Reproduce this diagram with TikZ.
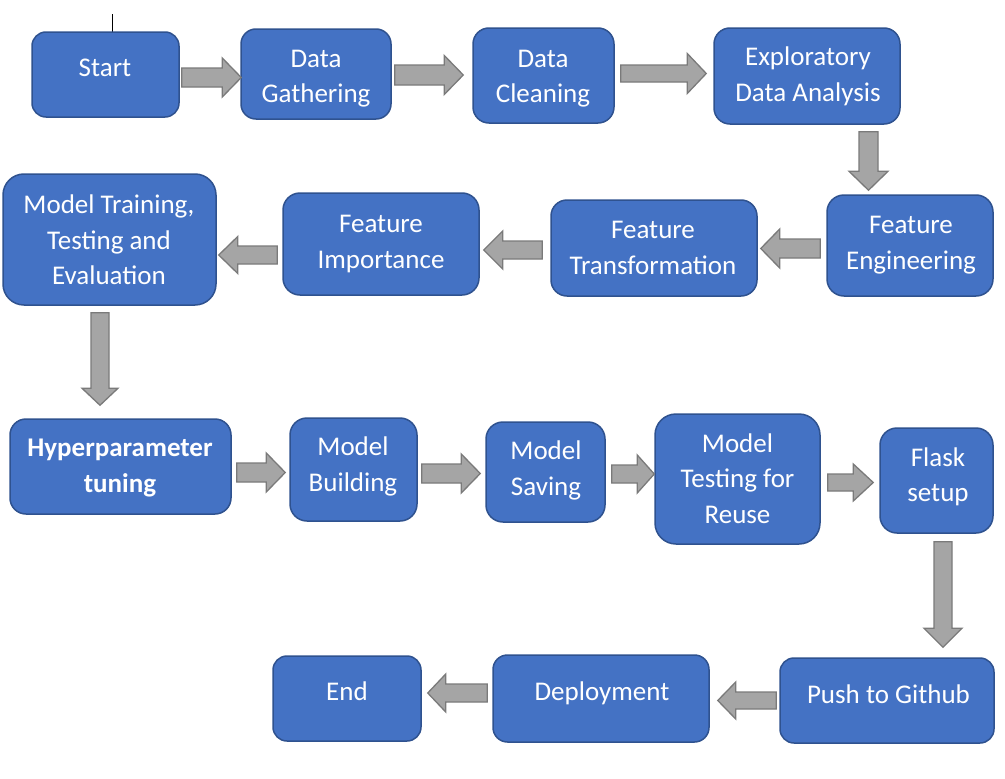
\documentclass[tikz,border=0pt]{standalone}
\usepackage{fontspec}
\setmainfont{Carlito}
\usetikzlibrary{calc}
\definecolor{boxc}{HTML}{4472C4}
\definecolor{bordc}{HTML}{2F528F}
\definecolor{arrc}{HTML}{A5A5A5}
\definecolor{arrb}{HTML}{7A7A7A}
\tikzset{
  box/.style={rectangle, draw=bordc, fill=boxc, line width=1.5pt, inner sep=0pt},
  lbl/.style={anchor=base, align=center, text=white, inner sep=0pt,
    font=\fontsize{27}{35.5}\selectfont},
  blockarrow/.style={draw=arrb, fill=arrc, line width=1.3pt, line join=miter}
}
% box: name, cx, cy, width, height, radius
\newcommand\bx[6]{\node[box, minimum width=#4pt, minimum height=#5pt, rounded corners=#6pt] (#1) at (#2,#3) {};}
% horizontal block arrow: tail, tip, shaft half, head half, signed head length
\newcommand\harr[5]{\draw[blockarrow] let \p1=(#1), \p2=(#2) in
  (\x1,{\y1+#3pt}) -- ({\x2-(#5pt)},{\y1+#3pt}) -- ({\x2-(#5pt)},{\y1+#4pt}) -- (\x2,\y1)
  -- ({\x2-(#5pt)},{\y1-#4pt}) -- ({\x2-(#5pt)},{\y1-#3pt}) -- (\x1,{\y1-#3pt}) -- cycle;}
% vertical block arrow
\newcommand\varr[5]{\draw[blockarrow] let \p1=(#1), \p2=(#2) in
  ({\x1+#3pt},\y1) -- ({\x1+#3pt},{\y2-(#5pt)}) -- ({\x1+#4pt},{\y2-(#5pt)}) -- (\x1,\y2)
  -- ({\x1-#4pt},{\y2-(#5pt)}) -- ({\x1-#3pt},{\y2-(#5pt)}) -- ({\x1-#3pt},\y1) -- cycle;}
\begin{document}
\begin{tikzpicture}[x=1pt,y=-1pt]
\useasboundingbox (0,0) rectangle (1005,779);
\fill[white] (0,0) rectangle (1005,779);
% cursor mark
\draw[black, line width=1pt] (112.5,14) -- (112.5,32);
\draw[orange!70!black, line width=1pt] (112.5,32) -- (112.5,35);
% boxes
\bx{start}{105.5}{74.5}{147}{85}{14}
\bx{dg}{316}{74}{150}{90}{15}
\bx{dc}{543.5}{75.5}{141}{95}{16}
\bx{eda}{807}{76}{186}{96}{16}
\bx{fe}{910}{245.5}{166}{101}{17}
\bx{ft}{654}{248}{206}{96}{16}
\bx{fi}{381}{244}{196}{102}{17}
\bx{mtte}{109.5}{239.5}{213}{131}{21}
\bx{ht}{120.5}{466.5}{221}{95}{16}
\bx{mb}{353.5}{469.5}{127}{103}{17}
\bx{ms}{545.5}{472}{119}{100}{17}
\bx{mtr}{737.5}{479}{165}{130}{21}
\bx{flask}{936.5}{480.5}{113}{105}{17}
\bx{push}{887}{700.5}{214}{85}{14}
\bx{deploy}{601}{698.5}{216}{87}{14.5}
\bx{end}{347}{698.5}{148}{85}{14}
% texts (anchored at the baseline of the last line)
\node[lbl] (start-t) at (105,76.5) {Start};
\node[lbl] (dg-t) at (316,102.5) {Data\\Gathering};
\node[lbl] (dc-t) at (543,102.5) {Data\\Cleaning};
\node[lbl] (eda-t) at (808,101) {Exploratory\\Data Analysis};
\node[lbl] (fe-t) at (911,269) {Feature\\Engineering};
\node[lbl] (ft-t) at (653,274) {Feature\\Transformation};
\node[lbl] (fi-t) at (381,268) {Feature\\Importance};
\node[lbl] (mtte-t) at (109,284.5) {Model Training,\\Testing and\\Evaluation};
\node[lbl, font=\fontsize{27}{35.5}\selectfont\bfseries] (ht-t) at (120,492) {Hyperparameter\\tuning};
\node[lbl] (mb-t) at (353,491) {Model\\Building};
\node[lbl] (ms-t) at (546,495) {Model\\Saving};
\node[lbl] (mtr-t) at (737.5,523) {Model\\Testing for\\Reuse};
\node[lbl] (flask-t) at (938,501.5) {Flask\\setup};
\node[lbl] (end-t) at (347,700) {End};
\node[lbl] (deploy-t) at (602,700) {Deployment};
\node[lbl] (push-t) at (888.5,703) {Push to Github};
% arrows
\harr{$(start.east)+(2,3)$}{$(dg.west)+(1,3.5)$}{9.5}{19.5}{19}
\harr{$(dg.east)+(3,1)$}{$(dc.west)+(-9,-0.5)$}{10}{19.5}{19}
\harr{$(dc.east)+(6,-2)$}{$(eda.west)+(-7,-2.5)$}{8.5}{20}{19}
\varr{$(eda.south)+(61.5,7)$}{$(fe.north)+(-41.5,-4)$}{9.5}{19.5}{-19}
\harr{$(fe.west)+(-6,3)$}{$(ft.east)+(3,0.5)$}{9.5}{19.5}{-19}
\harr{$(ft.west)+(-8,2)$}{$(fi.east)+(4,6)$}{9}{19}{-19}
\harr{$(fi.west)+(-5,11)$}{$(mtte.east)+(2,15.5)$}{9}{18.5}{-19}
\varr{$(mtte.south)+(-9.5,7)$}{$(ht.north)+(-20.5,-13)$}{9}{18}{-17}
\harr{$(ht.east)+(5,6)$}{$(mb.west)+(-4,3)$}{9.5}{19.5}{19}
\harr{$(mb.east)+(4,4)$}{$(ms.west)+(-5,1.5)$}{9.5}{19.5}{19}
\harr{$(ms.east)+(6,2)$}{$(mtr.west)+(0,-5)$}{9}{19}{17}
\harr{$(mtr.east)+(7,3.5)$}{$(flask.west)+(-6,2)$}{8.5}{18.5}{20}
\varr{$(flask.south)+(6.5,8)$}{$(push.north)+(56,-10)$}{9}{19}{-19}
\harr{$(push.west)+(-3,0)$}{$(deploy.east)+(8,2)$}{8.5}{18.5}{-18}
\harr{$(deploy.west)+(-5,-5.5)$}{$(end.east)+(6,-5.5)$}{9}{19}{-18}
\end{tikzpicture}
\end{document}
